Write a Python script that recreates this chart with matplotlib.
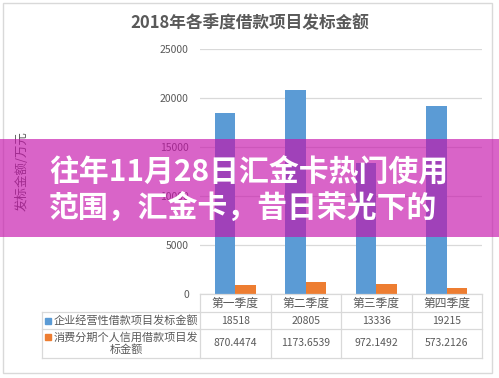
import matplotlib
matplotlib.use("Agg")
import matplotlib.pyplot as plt
from matplotlib.patches import Rectangle
from matplotlib.lines import Line2D

plt.rcParams["font.family"] = ["Noto Sans CJK SC", "DejaVu Sans"]

# -- Donnees --
quarters = ["第一季度", "第二季度", "第三季度", "第四季度"]
corp_vals = [18518, 20805, 13336, 19215]
cons_vals = [870.4474, 1173.6539, 972.1492, 573.2126]
corp_name = "企业经营性借款项目发标金额"
cons_name = "消费分期个人信用借款项目发\n标金额"
yticks = [0, 5000, 10000, 15000, 20000, 25000]

title = "2018年各季度借款项目发标金额"
ylabel = "发标金额/万元"
banner = "往年11月28日汇金卡热门使用\n范围，汇金卡，昔日荣光下的"

BLUE = "#5B9BD5"
ORANGE = "#ED7D31"
GRID = "#D9D9D9"
TXT = "#595959"

W, H = 499, 378
fig = plt.figure(figsize=(W / 100, H / 100), dpi=100)
fig.patch.set_facecolor("white")


def fx(x):
    return x / W


def fy(y):
    return 1 - y / H


# cadre exterieur
fig.patches.append(Rectangle((fx(3), fy(373)), fx(489), 370 / H, transform=fig.transFigure,
                             fill=False, edgecolor=GRID, linewidth=1.0))

# -- Zone graphique --
left, right, top, bottom = 200, 482, 49, 294
ax = fig.add_axes([fx(left), fy(bottom), (right - left) / W, (bottom - top) / H])
x = range(len(quarters))
w = 0.29
ax.bar([i - w / 2 for i in x], corp_vals, w, color=BLUE, zorder=3)
ax.bar([i + w / 2 for i in x], cons_vals, w, color=ORANGE, zorder=3)
ax.set_xlim(-0.5, len(quarters) - 0.5)
ax.set_ylim(0, 25000)
ax.set_yticks(yticks)
ax.set_yticklabels([str(v) for v in yticks], fontsize=7.5, color=TXT)
ax.set_xticks([])
ax.tick_params(axis="y", length=0, pad=8)
ax.grid(axis="y", color=GRID, linewidth=0.9, zorder=0)
for s in ax.spines.values():
    s.set_visible(False)

fig.text(0.5, fy(23), title, ha="center", va="center", fontsize=12,
         fontweight="bold", color=TXT)
fig.text(fx(22), fy(171), ylabel, ha="center", va="center", rotation=90,
         fontsize=9, color=TXT)

# -- Tableau de donnees --
tl = 42
col_w = (right - left) / len(quarters)
rows_y = [294, 312, 329, 358]
line_kw = dict(color=GRID, linewidth=0.9, transform=fig.transFigure)
fig.add_artist(Line2D([fx(left), fx(right)], [fy(rows_y[0])] * 2, **line_kw))
for ry in rows_y[1:]:
    fig.add_artist(Line2D([fx(tl), fx(right)], [fy(ry)] * 2, **line_kw))
fig.add_artist(Line2D([fx(tl)] * 2, [fy(rows_y[1]), fy(rows_y[3])], **line_kw))
for i in range(len(quarters) + 1):
    cx = left + i * col_w
    fig.add_artist(Line2D([fx(cx)] * 2, [fy(rows_y[0]), fy(rows_y[3])], **line_kw))

for i, q in enumerate(quarters):
    cx = left + (i + 0.5) * col_w
    fig.text(fx(cx), fy((rows_y[0] + rows_y[1]) / 2), q, ha="center", va="center",
             fontsize=8.5, color=TXT)
    fig.text(fx(cx), fy((rows_y[1] + rows_y[2]) / 2), f"{corp_vals[i]}", ha="center",
             va="center", fontsize=7.5, color=TXT)
    fig.text(fx(cx), fy((rows_y[2] + rows_y[3]) / 2), f"{cons_vals[i]:.4f}", ha="center",
             va="center", fontsize=7.5, color=TXT)

label_cx = 126
fig.text(fx(label_cx), fy((rows_y[1] + rows_y[2]) / 2), corp_name, ha="center",
         va="center", fontsize=8, color=TXT)
fig.text(fx(label_cx), fy((rows_y[2] + rows_y[3]) / 2), cons_name, ha="center",
         va="center", fontsize=8, color=TXT, linespacing=1.2)
for color, ry in [(BLUE, 320.5), (ORANGE, 336.5)]:
    fig.patches.append(Rectangle((fx(45), fy(ry + 3)), 6 / W, 6 / H,
                                 transform=fig.transFigure, color=color))

# -- Bandeau rose --
fig.patches.append(Rectangle((0, fy(237)), 1, 98 / H, transform=fig.transFigure,
                             facecolor="#C611AB", alpha=0.65, edgecolor="none", zorder=5))
fig.text(fx(49), fy(191), banner, ha="left", va="center", fontsize=21.5,
         fontweight="bold", color="white", linespacing=1.25, zorder=6)

fig.savefig("out.png", dpi=100)
